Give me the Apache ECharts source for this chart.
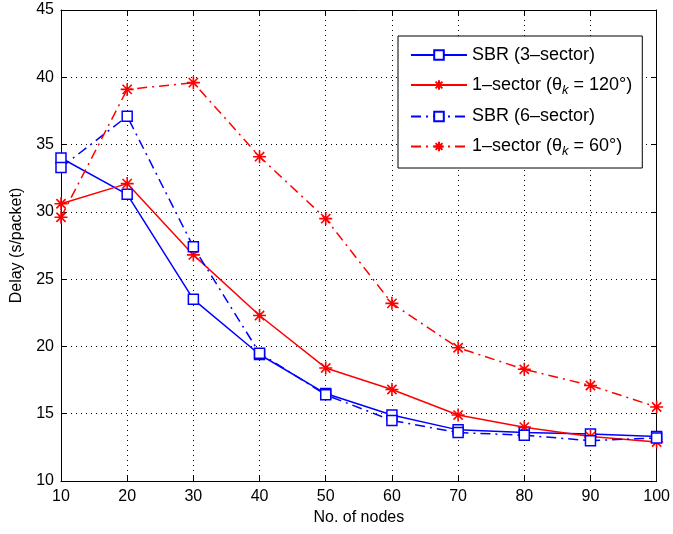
<!DOCTYPE html>
<html><head><meta charset="utf-8">
<script src="https://cdn.jsdelivr.net/npm/echarts@6/dist/echarts.min.js"></script>
<style>html,body{margin:0;padding:0;background:#fff}#c{width:673px;height:534px}</style>
</head><body><div id="c"></div>
<script>
const nodes = [10, 20, 30, 40, 50, 60, 70, 80, 90, 100];
const sbr3 = [34.0, 31.3, 23.5, 19.4, 16.5, 14.9, 13.8, 13.6, 13.5, 13.3];
const sec120 = [30.6, 32.1, 26.8, 22.3, 18.4, 16.8, 14.9, 14.0, 13.3, 12.9];
const sbr6 = [33.3, 37.1, 27.4, 19.5, 16.4, 14.5, 13.6, 13.4, 13.0, 13.2];
const sec60 = [29.6, 39.1, 39.6, 34.1, 29.5, 23.2, 19.9, 18.3, 17.1, 15.5];
const seriesNames = ['SBR (3\u2013sector)', '1\u2013sector (\u03b8{sub|k} = 120\u00b0)', 'SBR (6\u2013sector)', '1\u2013sector (\u03b8{sub|k} = 60\u00b0)'];
const xTicks = [10, 20, 30, 40, 50, 60, 70, 80, 90, 100];
const yTicks = [10, 15, 20, 25, 30, 35, 40, 45];

const FONT = 'Liberation Sans';
const star = 'path://M10 0 L10 20 M0 10 L20 10 M2.9 2.9 L17.1 17.1 M17.1 2.9 L2.9 17.1';
const pairs = v => nodes.map((x, i) => [x, v[i]]);
const dashDot = [10, 5, 2, 5];

function mk(name, data, color, symbol, size, dashed) {
  const isStar = symbol === star;
  return {
    name: name, type: 'line', data: pairs(data), xAxisIndex: 0, yAxisIndex: 0,
    symbol: symbol, symbolSize: size, showSymbol: true,
    lineStyle: { color: color, width: 1.5, type: dashed ? dashDot : 'solid' },
    itemStyle: { color: isStar ? color : '#fff', borderColor: color, borderWidth: isStar ? 1.6 : 1.5 },
    emphasis: { disabled: true }, animation: false, z: 3
  };
}

const chart = echarts.init(document.getElementById('c'));
const axisCommon = {
  type: 'value',
  axisLine: { show: true, onZero: false, lineStyle: { color: '#000', width: 1 } },
  axisTick: { show: true, inside: true, length: 5, lineStyle: { color: '#000' } },
};
chart.setOption({
  backgroundColor: '#fff',
  animation: false,
  textStyle: { fontFamily: FONT },
  grid: { left: 61, right: 14, top: 10, bottom: 53, containLabel: false },
  legend: {
    orient: 'vertical', left: 398, top: 36,
    data: seriesNames.map(n => ({ name: n })),
    itemWidth: 56, itemHeight: 12, itemGap: 10,
    padding: [9, 10, 10, 12],
    backgroundColor: '#fff', borderColor: '#000', borderWidth: 1, borderRadius: 0,
    selectedMode: false,
    textStyle: { fontFamily: FONT, fontSize: 18, color: '#000', lineHeight: 20,
      rich: { sub: { fontFamily: FONT, fontSize: 13, fontStyle: 'italic', padding: [10, 0, 0, 0], color: '#000' } } },
    formatter: n => n
  },
  xAxis: [
    Object.assign({}, axisCommon, {
      min: 10, max: 100, interval: 10, position: 'bottom',
      name: 'No. of nodes', nameLocation: 'middle', nameGap: 29,
      nameTextStyle: { fontFamily: FONT, fontSize: 16, color: '#000' },
      axisLabel: { color: '#000', fontSize: 16, fontFamily: FONT, margin: 8,
        formatter: v => xTicks.includes(v) ? String(v) : '' },
      splitLine: { show: true, lineStyle: { color: '#000', width: 1, type: [1, 4] } }
    }),
    Object.assign({}, axisCommon, {
      min: 10, max: 100, interval: 10, position: 'top',
      axisLabel: { show: false }, splitLine: { show: false }
    })
  ],
  yAxis: [
    Object.assign({}, axisCommon, {
      min: 10, max: 45, interval: 5, position: 'left',
      name: 'Delay (s/packet)', nameLocation: 'middle', nameGap: 36, nameRotate: 90,
      nameTextStyle: { fontFamily: FONT, fontSize: 16, color: '#000' },
      axisLabel: { color: '#000', fontSize: 16, fontFamily: FONT, margin: 7,
        formatter: v => yTicks.includes(v) ? String(v) : '' },
      splitLine: { show: true, lineStyle: { color: '#000', width: 1, type: [1, 4] } }
    }),
    Object.assign({}, axisCommon, {
      min: 10, max: 45, interval: 5, position: 'right',
      axisLabel: { show: false }, splitLine: { show: false }
    })
  ],
  series: [
    mk(seriesNames[0], sbr3, '#0000ff', 'rect', 10, false),
    mk(seriesNames[1], sec120, '#ff0000', star, 13, false),
    mk(seriesNames[2], sbr6, '#0000ff', 'rect', 10, true),
    mk(seriesNames[3], sec60, '#ff0000', star, 13, true)
  ]
});
</script></body></html>
